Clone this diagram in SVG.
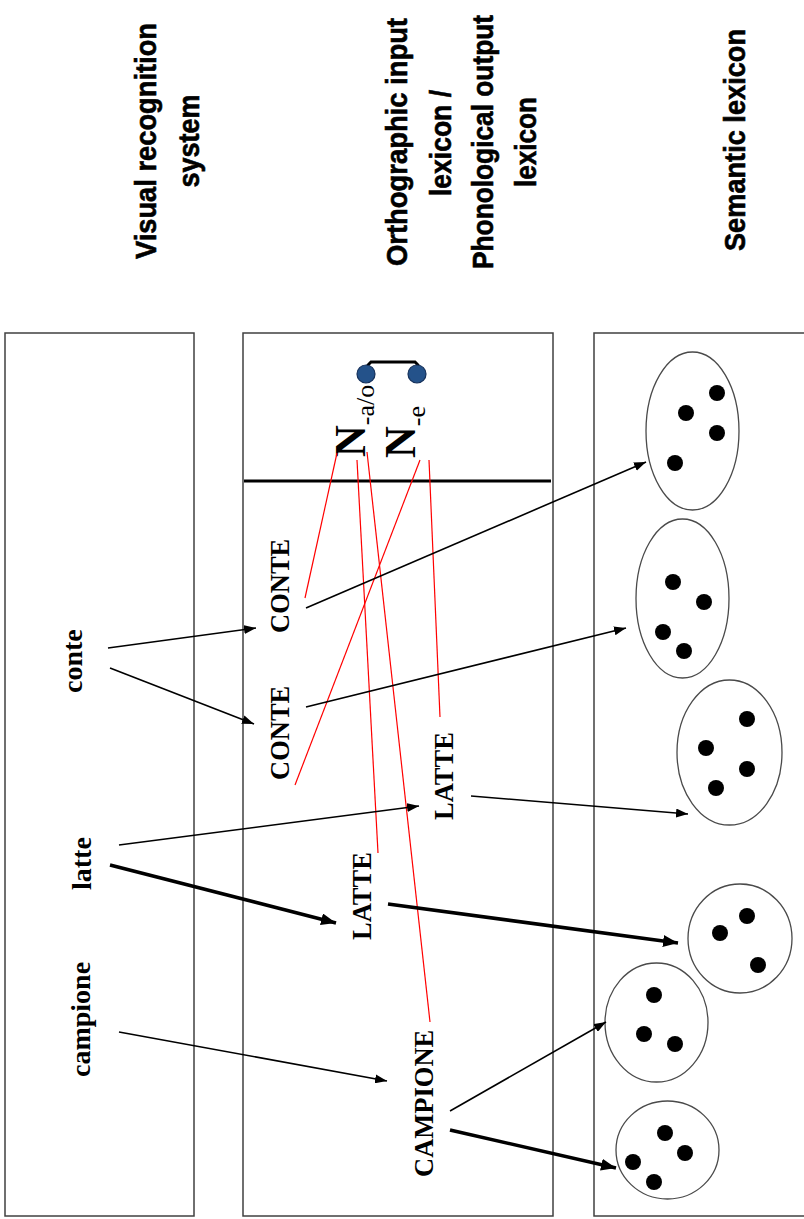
<svg xmlns="http://www.w3.org/2000/svg" width="804" height="1219" viewBox="0 0 804 1219">
  <style>
    .panel { fill: #ffffff; stroke: #404040; stroke-width: 1.5; }
    .head { font-family: "Liberation Sans", Arial, sans-serif; font-weight: bold; font-size: 29px; fill: #000; stroke: #000; stroke-width: 0.6; text-anchor: middle; }
    .word { font-family: "Liberation Serif", "Times New Roman", serif; font-weight: bold; font-size: 28px; fill: #000; }
    .entry { font-family: "Liberation Serif", "Times New Roman", serif; font-weight: bold; font-size: 26.5px; fill: #000; }
    .nclass { font-family: "Liberation Serif", "Times New Roman", serif; font-weight: bold; font-size: 44px; fill: #000; }
    .arrow { stroke: #000; stroke-width: 1.6; fill: none; marker-end: url(#ah); }
    .arrow.strong { stroke-width: 3.6; marker-end: url(#ahStrong); }
    .link { stroke: #ff0000; stroke-width: 1.2; fill: none; }
    .concept { fill: #ffffff; stroke: #4a4a4a; stroke-width: 1.3; }
    .feature { fill: #000; }
    .node-dot { fill: #24528a; stroke: #15305a; stroke-width: 1.2; }
  </style>
  <defs>
    <marker id="ah" viewBox="0 0 12 9" refX="12" refY="4.5" markerWidth="12" markerHeight="9" markerUnits="userSpaceOnUse" orient="auto">
      <path d="M0,0 L12,4.5 L0,9 z" fill="#000"/>
    </marker>
    <marker id="ahStrong" viewBox="0 0 15 12" refX="15" refY="6" markerWidth="15" markerHeight="12" markerUnits="userSpaceOnUse" orient="auto">
      <path d="M0,0 L15,6 L0,12 z" fill="#000"/>
    </marker>
  </defs>

  <!-- column headings -->
  <g id="heading-visual">
    <text class="head" transform="translate(156,141) rotate(-90)" textLength="236" lengthAdjust="spacingAndGlyphs">Visual recognition</text>
    <text class="head" transform="translate(199,141) rotate(-90)" textLength="93" lengthAdjust="spacingAndGlyphs">system</text>
  </g>
  <g id="heading-lexicon">
    <text class="head" transform="translate(407,142) rotate(-90)" textLength="248" lengthAdjust="spacingAndGlyphs">Orthographic input</text>
    <text class="head" transform="translate(451,143) rotate(-90)" textLength="106" lengthAdjust="spacingAndGlyphs">lexicon /</text>
    <text class="head" transform="translate(493,142) rotate(-90)" textLength="254" lengthAdjust="spacingAndGlyphs">Phonological output</text>
    <text class="head" transform="translate(536,142) rotate(-90)" textLength="90" lengthAdjust="spacingAndGlyphs">lexicon</text>
  </g>
  <g id="heading-semantic">
    <text class="head" transform="translate(745,140) rotate(-90)" textLength="222" lengthAdjust="spacingAndGlyphs">Semantic lexicon</text>
  </g>

  <!-- panels -->
  <g id="panel-visual"><rect class="panel" x="5" y="333" width="189" height="883"/></g>
  <g id="panel-lexicon">
    <rect class="panel" x="243" y="333" width="310" height="883"/>
    <line x1="244" y1="481" x2="551" y2="481" stroke="#000" stroke-width="3"/>
  </g>
  <g id="panel-semantic"><rect class="panel" x="594" y="333" width="220" height="883"/></g>

  <!-- noun-class nodes with their link -->
  <g id="class-pair">
    <path d="M368,372 V365 L371,362 H415 L418,365 V372" fill="none" stroke="#000" stroke-width="3"/>
    <circle class="node-dot" cx="366" cy="374" r="9"/>
    <circle class="node-dot" cx="417" cy="374" r="9"/>
  </g>
  <g id="class-ao">
    <text class="nclass" transform="translate(365,457) rotate(-90)">N<tspan dy="9" style="font-family:'Liberation Serif','Times New Roman',serif;font-weight:normal;font-size:26px">-a/o</tspan></text>
  </g>
  <g id="class-e">
    <text class="nclass" transform="translate(415,458) rotate(-90)">N<tspan dy="10" style="font-family:'Liberation Serif','Times New Roman',serif;font-weight:normal;font-size:26px">-e</tspan></text>
  </g>

  <!-- written input words -->
  <g id="word-conte"><text class="word" transform="translate(82,693) rotate(-90)">conte</text></g>
  <g id="word-latte"><text class="word" transform="translate(91,890) rotate(-90)">latte</text></g>
  <g id="word-campione"><text class="word" transform="translate(90,1077) rotate(-90)">campione</text></g>

  <!-- lexical entries -->
  <g id="entry-conte-1"><text class="entry" transform="translate(289,633) rotate(-90)">CONTE</text></g>
  <g id="entry-conte-2"><text class="entry" transform="translate(289,780) rotate(-90)">CONTE</text></g>
  <g id="entry-latte-1"><text class="entry" transform="translate(453,820) rotate(-90)">LATTE</text></g>
  <g id="entry-latte-2"><text class="entry" transform="translate(371,940) rotate(-90)">LATTE</text></g>
  <g id="entry-campione"><text class="entry" transform="translate(433,1177) rotate(-90)">CAMPIONE</text></g>

  <!-- semantic concepts -->
  <g id="concept-1">
    <ellipse class="concept" cx="692.5" cy="431" rx="46.5" ry="79"/>
    <circle class="feature" cx="717" cy="393" r="8"/>
    <circle class="feature" cx="686" cy="413" r="8"/>
    <circle class="feature" cx="717" cy="433" r="8"/>
    <circle class="feature" cx="675" cy="463" r="8"/>
  </g>
  <g id="concept-2">
    <ellipse class="concept" cx="682.5" cy="598.5" rx="46.5" ry="79.5"/>
    <circle class="feature" cx="673" cy="582" r="8"/>
    <circle class="feature" cx="704" cy="602" r="8"/>
    <circle class="feature" cx="663" cy="632" r="8"/>
    <circle class="feature" cx="684" cy="651" r="8"/>
  </g>
  <g id="concept-3">
    <ellipse class="concept" cx="729.5" cy="752.5" rx="52.5" ry="72.5"/>
    <circle class="feature" cx="747" cy="719" r="8"/>
    <circle class="feature" cx="706" cy="748" r="8"/>
    <circle class="feature" cx="747" cy="769" r="8"/>
    <circle class="feature" cx="716" cy="788" r="8"/>
  </g>
  <g id="concept-4">
    <ellipse class="concept" cx="740" cy="938.5" rx="52" ry="54.5"/>
    <circle class="feature" cx="747" cy="916" r="8"/>
    <circle class="feature" cx="720" cy="933" r="8"/>
    <circle class="feature" cx="758" cy="965" r="8"/>
  </g>
  <g id="concept-5">
    <ellipse class="concept" cx="656.5" cy="1022.5" rx="51.5" ry="59.5"/>
    <circle class="feature" cx="654" cy="995" r="8"/>
    <circle class="feature" cx="644" cy="1034" r="8"/>
    <circle class="feature" cx="675" cy="1044" r="8"/>
  </g>
  <g id="concept-6">
    <ellipse class="concept" cx="667.5" cy="1150" rx="51.5" ry="49"/>
    <circle class="feature" cx="665" cy="1133" r="8"/>
    <circle class="feature" cx="685" cy="1153" r="8"/>
    <circle class="feature" cx="633" cy="1162" r="8"/>
    <circle class="feature" cx="654" cy="1182" r="8"/>
  </g>

  <!-- connectors -->
  <g id="connectors">
    <!-- class-to-entry links -->
    <line class="link" x1="337" y1="453" x2="305" y2="598"/>
    <line class="link" x1="357" y1="460" x2="378" y2="853"/>
    <line class="link" x1="367" y1="452" x2="430" y2="1022"/>
    <line class="link" x1="420" y1="460" x2="295" y2="785"/>
    <line class="link" x1="429" y1="460" x2="440" y2="717"/>
    <!-- word to entry -->
    <line class="arrow" x1="108" y1="648" x2="256" y2="628"/>
    <line class="arrow" x1="110" y1="668" x2="254" y2="724"/>
    <line class="arrow" x1="119" y1="845" x2="419" y2="806"/>
    <line class="arrow strong" x1="110" y1="865" x2="336" y2="923"/>
    <line class="arrow" x1="119" y1="1032" x2="387" y2="1081"/>
    <!-- entry to concept -->
    <line class="arrow" x1="306" y1="608" x2="646" y2="462"/>
    <line class="arrow" x1="306" y1="707" x2="626" y2="628"/>
    <line class="arrow" x1="471" y1="796" x2="688" y2="814"/>
    <line class="arrow strong" x1="388" y1="904" x2="678" y2="943"/>
    <line class="arrow" x1="450" y1="1111" x2="606" y2="1022"/>
    <line class="arrow strong" x1="450" y1="1130" x2="616" y2="1168"/>
  </g>
</svg>
